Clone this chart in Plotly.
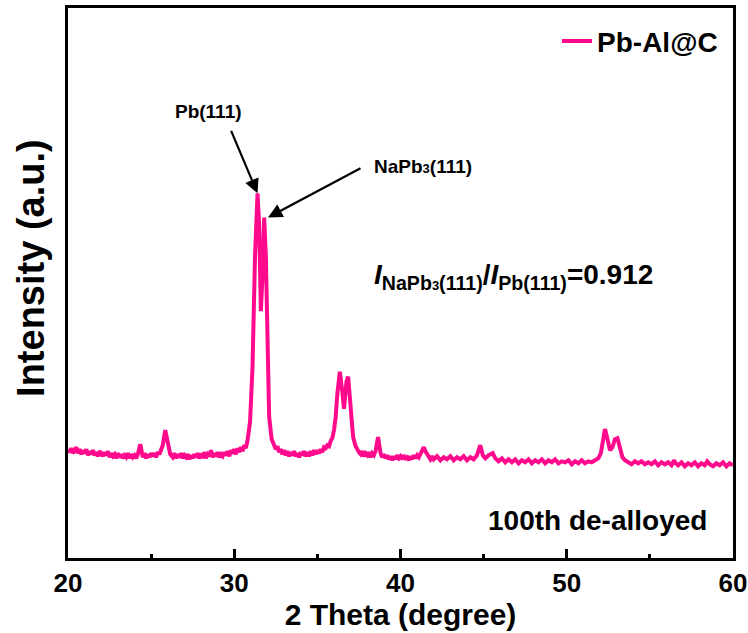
import plotly.graph_objects as go

two_theta = [20.0, 20.1, 20.2, 20.3, 20.4, 20.5, 20.6, 20.7, 20.8, 20.9, 21.0, 21.1, 21.2, 21.3, 21.4,
             21.5, 21.6, 21.7, 21.8, 21.9, 22.0, 22.1, 22.2, 22.3, 22.4, 22.5, 22.6, 22.7, 22.8, 22.9,
             23.0, 23.1, 23.2, 23.3, 23.4, 23.5, 23.6, 23.7, 23.8, 23.9, 24.0, 24.1, 24.2, 24.35, 24.5,
             24.6, 24.7, 24.8, 24.9, 25.0, 25.1, 25.2, 25.3, 25.4, 25.5, 25.6, 25.7, 25.85, 26.0, 26.15,
             26.3, 26.4, 26.5, 26.6, 26.7, 26.8, 26.9, 27.0, 27.1, 27.2, 27.3, 27.4, 27.5, 27.6, 27.7,
             27.8, 27.9, 28.0, 28.1, 28.2, 28.3, 28.4, 28.5, 28.6, 28.7, 28.8, 28.9, 29.0, 29.1, 29.2,
             29.3, 29.4, 29.5, 29.6, 29.7, 29.8, 29.9, 30.0, 30.1, 30.2, 30.3, 30.4, 30.5, 30.6, 30.7,
             30.8, 30.95, 31.1, 31.25, 31.4, 31.5, 31.6, 31.7, 31.8, 31.9, 32.0, 32.1, 32.25, 32.4, 32.5,
             32.6, 32.7, 32.8, 32.9, 33.0, 33.1, 33.2, 33.3, 33.4, 33.5, 33.6, 33.7, 33.8, 33.9, 34.0,
             34.1, 34.2, 34.3, 34.4, 34.5, 34.6, 34.7, 34.8, 34.9, 35.0, 35.1, 35.2, 35.3, 35.4, 35.5,
             35.6, 35.7, 35.8, 35.9, 36.0, 36.1, 36.2, 36.35, 36.5, 36.6, 36.75, 36.85, 37.0, 37.15, 37.3,
             37.4, 37.5, 37.6, 37.7, 37.8, 37.9, 38.0, 38.1, 38.2, 38.3, 38.4, 38.5, 38.65, 38.8, 38.9,
             39.0, 39.1, 39.2, 39.3, 39.4, 39.5, 39.6, 39.7, 39.8, 39.9, 40.0, 40.1, 40.2, 40.3, 40.4,
             40.5, 40.6, 40.7, 40.8, 40.9, 41.0, 41.1, 41.2, 41.3, 41.4, 41.5, 41.6, 41.7, 41.8, 41.9,
             42.0, 42.2, 42.4, 42.6, 42.8, 43.0, 43.2, 43.4, 43.6, 43.8, 44.0, 44.2, 44.4, 44.6, 44.8,
             44.95, 45.1, 45.3, 45.55, 45.7, 45.9, 46.1, 46.3, 46.5, 46.7, 46.9, 47.1, 47.3, 47.5, 47.7,
             47.9, 48.1, 48.3, 48.5, 48.7, 48.9, 49.1, 49.3, 49.5, 49.7, 49.9, 50.1, 50.3, 50.5, 50.7,
             50.9, 51.1, 51.3, 51.5, 51.7, 51.9, 52.05, 52.15, 52.3, 52.45, 52.6, 52.75, 52.9, 53.05, 53.2,
             53.35, 53.5, 53.7, 53.9, 54.1, 54.3, 54.5, 54.7, 54.9, 55.1, 55.3, 55.5, 55.7, 55.9, 56.1,
             56.3, 56.45, 56.55, 56.7, 56.9, 57.1, 57.3, 57.5, 57.7, 57.9, 58.1, 58.3, 58.45, 58.6, 58.8,
             59.0, 59.2, 59.4, 59.6, 59.8, 60.0]

intensity = [108, 105, 109, 104, 107, 110, 104, 108, 103, 107, 104, 108, 102, 106, 103,
             107, 102, 105, 101, 106, 104, 101, 105, 102, 106, 100, 104, 101, 103, 99,
             104, 100, 103, 99, 102, 100, 104, 99, 103, 100, 102, 99, 103, 113, 100,
             104, 99, 103, 100, 104, 101, 104, 100, 105, 103, 107, 112, 127, 115, 103,
             100, 104, 99, 103, 100, 104, 99, 102, 100, 103, 98, 102, 99, 103, 100,
             104, 99, 102, 101, 105, 99, 103, 101, 107, 100, 104, 101, 105, 100, 103,
             101, 105, 102, 106, 101, 107, 104, 108, 103, 109, 105, 110, 106, 112, 109,
             117, 135, 190, 300, 362, 330, 245, 280, 338, 300, 200, 140, 118, 112, 108,
             111, 105, 108, 103, 107, 102, 106, 101, 105, 102, 106, 101, 104, 100, 105,
             102, 106, 101, 105, 101, 106, 102, 107, 103, 107, 104, 108, 105, 110, 109,
             112, 111, 116, 119, 127, 140, 163, 185, 165, 148, 175, 180, 150, 120, 111,
             107, 105, 103, 106, 101, 104, 102, 105, 100, 104, 102, 106, 120, 104, 100,
             103, 99, 102, 98, 101, 97, 101, 98, 102, 99, 101, 98, 102, 99, 100,
             97, 101, 98, 102, 99, 102, 100, 104, 107, 110, 106, 103, 100, 98, 101,
             98, 101, 97, 100, 98, 101, 97, 100, 98, 101, 97, 100, 98, 102, 112,
             102, 99, 102, 104, 99, 96, 99, 95, 98, 95, 98, 94, 97, 95, 98,
             94, 97, 95, 98, 94, 97, 95, 98, 94, 96, 95, 97, 93, 96, 94,
             97, 94, 96, 95, 97, 99, 104, 115, 128, 118, 107, 110, 118, 119, 110,
             100, 97, 95, 93, 96, 94, 96, 93, 95, 93, 96, 92, 95, 93, 95,
             92, 97, 94, 92, 95, 91, 94, 92, 95, 91, 94, 92, 96, 93, 91,
             94, 92, 95, 91, 94, 92]

x_ticks = [20, 30, 40, 50, 60]
series_name = "Pb-Al@C"
color = "#FF0A8C"
FONT = "Liberation Sans, Arial, sans-serif"

fig = go.Figure()
fig.add_trace(go.Scatter(x=two_theta, y=intensity, mode="lines", name=series_name,
                         line=dict(color=color, width=4)))

fig.update_layout(
    width=748, height=633,
    margin=dict(l=68, r=15, t=8, b=75, autoexpand=False),
    plot_bgcolor="white", paper_bgcolor="white",
    font=dict(family=FONT, color="black"),
    showlegend=True,
    legend=dict(x=0.985, y=0.985, xanchor="right", yanchor="top",
                font=dict(size=28, family=FONT, color="black", weight="bold"),
                bgcolor="rgba(0,0,0,0)"),
)

fig.update_xaxes(range=[20, 60], tickvals=x_ticks, ticks="inside", ticklen=9, tickwidth=2.5,
                 tickcolor="black", automargin=False,
                 tickfont=dict(size=26, family=FONT, weight="bold"), showline=True, linewidth=2.5,
                 linecolor="black", mirror=True, showgrid=False, zeroline=False,
                 minor=dict(dtick=5, ticks="inside", ticklen=4, tickwidth=2.5, tickcolor="black"),
                 title=dict(text="2 Theta (degree)", font=dict(size=30, family=FONT, weight="bold"),
                            standoff=2))
fig.update_yaxes(range=[0, 546], showticklabels=False, ticks="", showline=True, linewidth=2.5,
                 linecolor="black", mirror=True, showgrid=False, zeroline=False, automargin=False)

# y-axis title placed slightly above the plot centre, as in the reference
fig.add_annotation(x=-0.056, y=0.527, xref="paper", yref="paper", showarrow=False,
                   text="Intensity (a.u.)", textangle=-90, xanchor="center", yanchor="middle",
                   font=dict(size=38, family=FONT, weight="bold"))

# arrows pointing at the two split peaks
fig.add_annotation(x=31.4, y=362, ax=-27, ay=-64, text="", showarrow=True,
                   arrowhead=2, arrowsize=1.3, arrowwidth=2.2, arrowcolor="black")
fig.add_annotation(x=32.03, y=338, ax=94, ay=-50, text="", showarrow=True,
                   arrowhead=2, arrowsize=1.3, arrowwidth=2.2, arrowcolor="black")
fig.add_annotation(x=28.48, y=443, showarrow=False, text="Pb(111)",
                   font=dict(size=19, family=FONT, weight="bold"), xanchor="center", yanchor="middle")
fig.add_annotation(x=38.29, y=389, showarrow=False,
                   text="NaPb<span style='font-size:13px'>3</span>(111)",
                   font=dict(size=19, family=FONT, weight="bold"), xanchor="left", yanchor="middle")
fig.add_annotation(x=0.457, y=0.511, xref="paper", yref="paper", showarrow=False,
                   xanchor="left", yanchor="middle",
                   text="<i>I</i><sub>NaPb<span style='font-size:13px'>3</span>(111)</sub>/<i>I</i><sub>Pb(111)</sub>=0.912",
                   font=dict(size=28, family=FONT, weight="bold"))
fig.add_annotation(x=0.964, y=0.069, xref="paper", yref="paper", showarrow=False,
                   xanchor="right", yanchor="middle", text="100th de-alloyed",
                   font=dict(size=28, family=FONT, weight="bold"))

fig.write_html("out.html")
